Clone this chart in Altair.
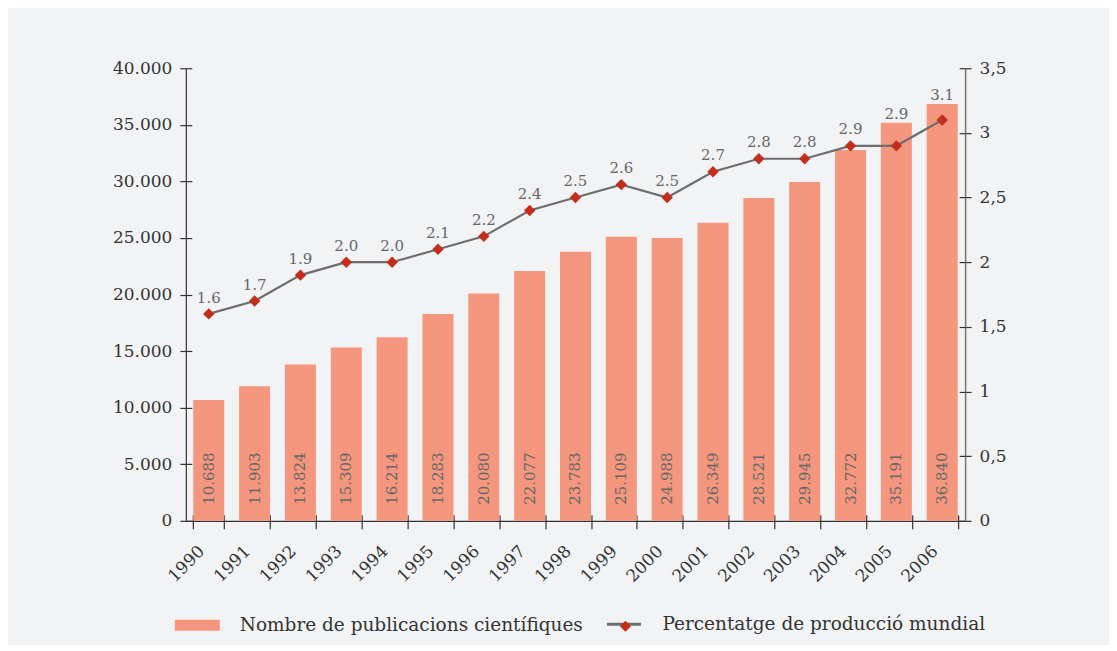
import altair as alt
import pandas as pd

years = [str(y) for y in range(1990, 2007)]
pubs = [10688, 11903, 13824, 15309, 16214, 18283, 20080, 22077, 23783,
        25109, 24988, 26349, 28521, 29945, 32772, 35191, 36840]
pct = [1.6, 1.7, 1.9, 2.0, 2.0, 2.1, 2.2, 2.4, 2.5, 2.6, 2.5, 2.7, 2.8,
       2.8, 2.9, 2.9, 3.1]
left_ticks = [0, 5000, 10000, 15000, 20000, 25000, 30000, 35000, 40000]
right_ticks = [0, 0.5, 1, 1.5, 2, 2.5, 3, 3.5]
bar_series = "Nombre de publicacions científiques"
line_series = "Percentatge de producció mundial"

df = pd.DataFrame({"year": years, "pubs": pubs, "pct": pct})
df["zero"] = 0
df["bseries"] = bar_series
df["lseries"] = line_series
df["mseries"] = "marker"

FONT = "DejaVu Serif"
BG = "#f2f3f5"
BAR = "#f5967e"
LINE = "#6e6e6e"
RED = "#c42d1b"
DARK = "#333333"
GRAY = "#666666"

xscale = alt.Scale(paddingInner=0.324, paddingOuter=0.162)
lscale = alt.Scale(domain=[0, 40000], nice=False, zero=True)
rscale = alt.Scale(domain=[0, 3.5], nice=False, zero=True)

base = alt.Chart(df)

x_main = alt.Axis(orient="bottom", title=None, grid=False, domain=True,
                  domainColor=DARK, domainWidth=1.2, ticks=True, tickSize=8,
                  tickColor=DARK, tickWidth=1.2, tickBand="extent",
                  labelAngle=-45, labelFont=FONT, labelFontSize=17,
                  labelColor=DARK, labelPadding=14, labelOffset=-13)
x_over = alt.Axis(orient="bottom", title=None, grid=False, domain=False,
                  ticks=True, tickSize=6, tickColor=DARK, tickWidth=1.2,
                  tickBand="extent", labels=False, offset=-6)

l_main = alt.Axis(orient="left", title=None, grid=False, values=left_ticks,
                  domain=True, domainColor=DARK, domainWidth=1.2,
                  tickSize=6, tickColor=DARK, tickWidth=1.2,
                  labelFont=FONT, labelFontSize=17, labelColor=DARK,
                  labelPadding=8,
                  labelExpr="replace(format(datum.value, ','), ',', '.')")
l_over = alt.Axis(orient="left", title=None, grid=False, values=left_ticks,
                  domain=False, tickSize=6, tickColor=DARK, tickWidth=1.2,
                  labels=False, offset=-6)
r_main = alt.Axis(orient="right", title=None, grid=False, values=right_ticks,
                  domain=True, domainColor="#777777", domainWidth=1.5,
                  tickSize=6, tickColor=DARK, tickWidth=1.2,
                  labelFont=FONT, labelFontSize=17, labelColor=DARK,
                  labelPadding=8,
                  labelExpr="replace(format(datum.value, '~g'), '.', ',')")
r_over = alt.Axis(orient="right", title=None, grid=False, values=right_ticks,
                  domain=False, tickSize=6, tickColor=DARK, tickWidth=1.2,
                  labels=False, offset=-6)

bars = base.mark_bar().encode(
    x=alt.X("year:N", scale=xscale, axis=x_main),
    y=alt.Y("pubs:Q", scale=lscale, axis=l_main),
    color=alt.Color(
        "bseries:N",
        scale=alt.Scale(domain=[bar_series], range=[BAR]),
        legend=alt.Legend(orient="none", legendX=-11, legendY=535, title=None,
                          symbolType="M-1,-0.245H1V0.245H-1Z", symbolSize=2025,
                          symbolStrokeWidth=0, labelOffset=20, padding=0,
                          labelLimit=0,
                          labelFont=FONT, labelFontSize=18.5, labelColor=DARK),
    ),
)

bar_text = base.mark_text(angle=270, align="left", baseline="middle", dx=16,
                          font=FONT, fontSize=15, color=GRAY).transform_calculate(
    lab="replace(format(datum.pubs, ','), ',', '.')"
).encode(
    x=alt.X("year:N", axis=x_over),
    y=alt.Y("zero:Q", scale=lscale, axis=l_over),
    text="lab:N",
)

line = base.mark_line(strokeWidth=2.2).encode(
    x=alt.X("year:N", axis=None),
    y=alt.Y("pct:Q", scale=rscale, axis=r_main),
    stroke=alt.Stroke(
        "lseries:N",
        scale=alt.Scale(domain=[line_series], range=[LINE]),
        legend=alt.Legend(orient="none", legendX=420, legendY=538, title=None,
                          symbolType="stroke", symbolSize=1156,
                          symbolStrokeWidth=3, labelOffset=20, padding=0,
                          labelLimit=0,
                          labelFont=FONT, labelFontSize=18.5, labelColor=DARK),
    ),
)

points = base.mark_point(filled=True, size=130, opacity=1, color=RED).encode(
    x=alt.X("year:N", axis=None),
    y=alt.Y("pct:Q", scale=rscale, axis=r_over),
    shape=alt.Shape(
        "mseries:N",
        scale=alt.Scale(domain=["marker"], range=["diamond"]),
        legend=alt.Legend(orient="none", legendX=431.5, legendY=550, title=None,
                          symbolSize=121, symbolFillColor=RED,
                          symbolStrokeWidth=0, labelExpr="''", padding=0,
                          labelFontSize=17),
    ),
)

pt_text = base.mark_text(align="center", baseline="alphabetic", font=FONT,
                         fontSize=15, color=GRAY).transform_calculate(
    labpos="max(datum.pct + 0.088, datum.pubs * 3.5 / 40000 + 0.03)",
    lab="format(datum.pct, '.1f')",
).encode(
    x=alt.X("year:N", axis=None),
    y=alt.Y("labpos:Q", scale=rscale, axis=None),
    text="lab:N",
)

chart = alt.layer(bars, bar_text, line, points, pt_text).resolve_scale(
    y="independent"
).resolve_axis(
    x="independent", y="independent"
).properties(
    width=780, height=453,
    autosize=alt.AutoSizeParams(type="none"),
    padding={"left": 178, "top": 60, "right": 144, "bottom": 124},
    background=BG,
).configure_view(stroke=None)

chart.save("out.html", embed_options={"renderer": "svg", "actions": False})
